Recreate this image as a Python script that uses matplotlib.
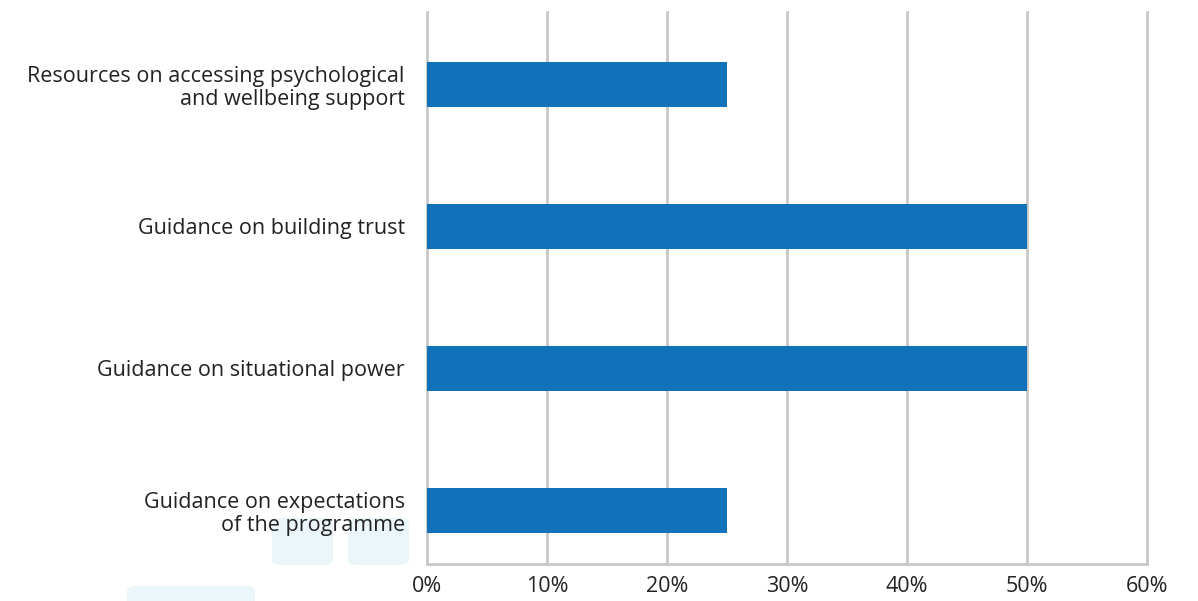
import matplotlib.pyplot as plt
from matplotlib.patches import FancyBboxPatch
from matplotlib.ticker import FuncFormatter, MultipleLocator

categories = [
    "Resources on accessing psychological\nand wellbeing support",
    "Guidance on building trust",
    "Guidance on situational power",
    "Guidance on expectations\nof the programme",
]
values = [25, 50, 50, 25]

plt.rcParams['font.family'] = ['Open Sans', 'DejaVu Sans']

fig = plt.figure(figsize=(11.98, 6.01), dpi=100)

# faint background boxes behind the labels
for x0, y0, w, h in [(272, 518, 61, 47), (348, 518, 61, 47), (127, 586, 128, 30)]:
    fig.patches.append(FancyBboxPatch((x0 / 1198, 1 - (y0 + h) / 601), w / 1198, h / 601,
                                      boxstyle="round,pad=0,rounding_size=0.008",
                                      transform=fig.transFigure, facecolor="#eaf6f9",
                                      edgecolor="none", zorder=-5))

ax = fig.add_axes([427 / 1198, 1 - 564 / 601, 720 / 1198, 552 / 601])
ax.patch.set_alpha(0)
ax.set_zorder(2)

ypos = range(len(categories))
ax.barh(ypos, values, height=0.317, color="#1172ba", zorder=3)

ax.set_xlim(0, 60)
ax.set_ylim(3.377, -0.51)
ax.xaxis.set_major_locator(MultipleLocator(10))
ax.xaxis.set_major_formatter(FuncFormatter(lambda v, p: f"{int(v)}%"))
ax.grid(axis="x", color="#c8c8c8", linewidth=2, zorder=1)
for gl in ax.get_xgridlines():
    gl.set_clip_on(False)
ax.set_yticks(list(ypos))
ax.set_yticklabels(categories, fontsize=15.5, color="#222222", ha="right", linespacing=1.15)
ax.tick_params(axis="x", labelsize=15.5, colors="#222222", length=0, pad=9)
ax.tick_params(axis="y", length=0, pad=16)

for s in ["top", "right", "left"]:
    ax.spines[s].set_visible(False)
ax.spines["bottom"].set_color("#c8c8c8")
ax.spines["bottom"].set_linewidth(2)

fig.savefig("out.png", dpi=100)
